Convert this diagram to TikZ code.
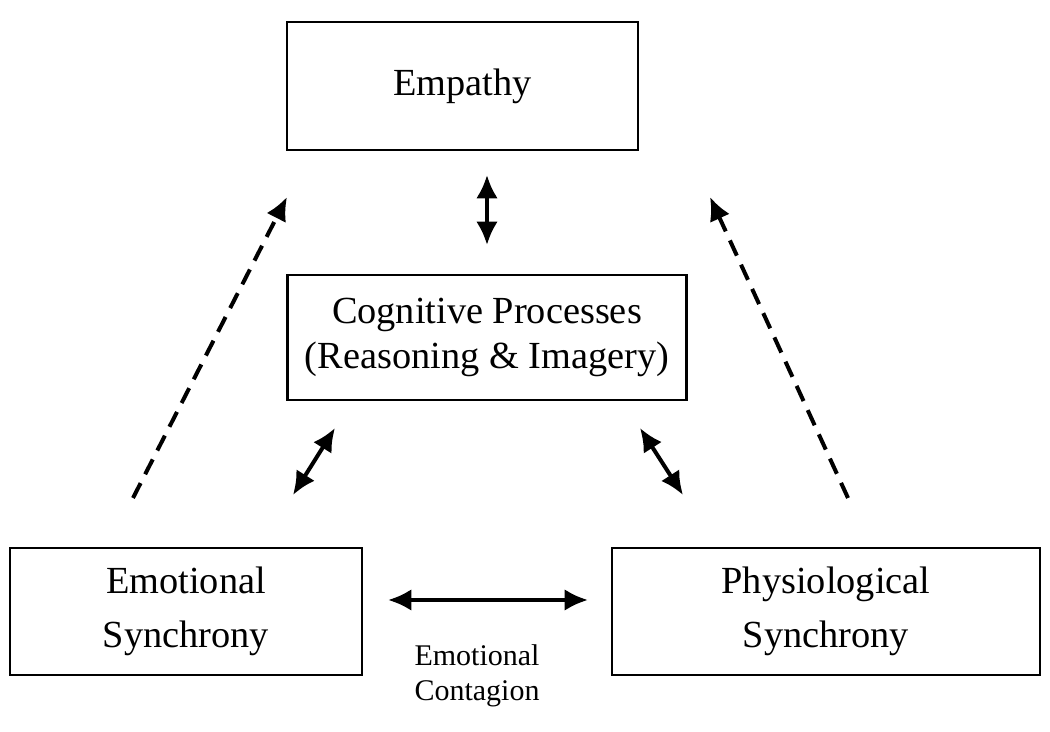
\documentclass[tikz,border=0pt]{standalone}
\usepackage{fontspec}
\setmainfont{Liberation Serif}
\usetikzlibrary{arrows.meta}
\begin{document}
\begin{tikzpicture}[x=0.3pt,y=-0.3pt,
  box/.style={draw,line width=0.8pt,inner sep=0pt,font=\fontsize{11.5}{13.5}\selectfont,align=center},
  arr/.style={line width=1.2pt,{Latex[length=7pt,width=6.5pt]}-{Latex[length=7pt,width=6.5pt]}},
  darr/.style={line width=1.2pt,dash pattern=on 5pt off 3pt,-{Latex[length=7pt,width=6.5pt]}}]
\useasboundingbox (0,0) rectangle (1050,732);
\node[box,minimum width=351*0.3pt,minimum height=128*0.3pt] (emp) at (462.5,86) {Empathy};
\node[box,minimum width=399*0.3pt,minimum height=125*0.3pt] (cog) at (487,337.5) {Cognitive Processes\\(Reasoning \& Imagery)};
\node[box,minimum width=352*0.3pt,minimum height=127*0.3pt,font=\fontsize{11.5}{16}\selectfont] (emo) at (186,611.5) {Emotional\\Synchrony};
\node[box,minimum width=428*0.3pt,minimum height=127*0.3pt,font=\fontsize{11.5}{16}\selectfont] (phy) at (826,611.5) {Physiological\\Synchrony};
\node[font=\fontsize{9}{10.5}\selectfont,align=center] (lab) at (477,676) {Emotional\\Contagion};
\coordinate (a1) at (487,175); \coordinate (a2) at (487,245);
\coordinate (b1) at (335,428); \coordinate (b2) at (293,495);
\coordinate (c1) at (640,428); \coordinate (c2) at (683,495);
\coordinate (d1) at (388,600); \coordinate (d2) at (588,600);
\coordinate (e1) at (133,498); \coordinate (e2) at (287,197);
\coordinate (f1) at (848,498); \coordinate (f2) at (710,197);
\draw[arr] (a1) -- (a2);
\draw[arr] (b1) -- (b2);
\draw[arr] (c1) -- (c2);
\draw[arr] (d1) -- (d2);
\draw[darr] (e1) -- (e2);
\draw[darr] (f1) -- (f2);
\end{tikzpicture}
\end{document}
